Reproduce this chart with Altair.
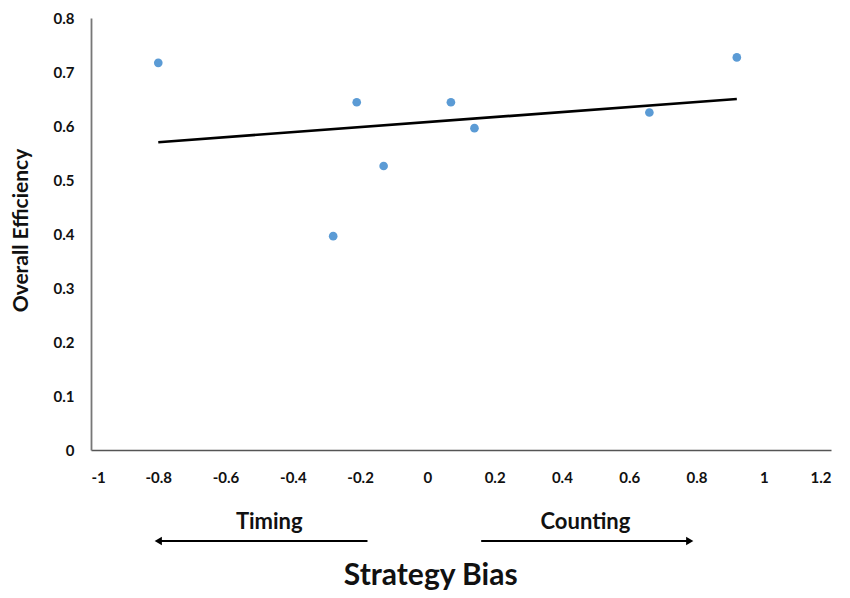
import altair as alt
import pandas as pd

# Data
strategy_bias = [-0.80, -0.28, -0.21, -0.13, 0.07, 0.14, 0.66, 0.92]
overall_eff = [0.717, 0.396, 0.644, 0.526, 0.644, 0.596, 0.625, 0.727]

x_ticks = [-1, -0.8, -0.6, -0.4, -0.2, 0, 0.2, 0.4, 0.6, 0.8, 1, 1.2]
y_ticks = [0, 0.1, 0.2, 0.3, 0.4, 0.5, 0.6, 0.7, 0.8]

# Annotations below the axis (x in data units)
ann_labels = ["Timing", "Counting"]
ann_x = [-0.47, 0.47]
arrow_tail = [-0.178, 0.16]
arrow_head = [-0.80, 0.78]
arrow_shape = ["triangle-left", "triangle-right"]
axis_title = ["Strategy Bias"]
axis_title_x = [0.01]

FONT = "Lato, Open Sans, sans-serif"

df = pd.DataFrame({"x": strategy_bias, "y": overall_eff})
ann = pd.DataFrame({"x": ann_x, "label": ann_labels, "tail": arrow_tail,
                    "head": arrow_head, "shape": arrow_shape})
ttl = pd.DataFrame({"x": axis_title_x, "label": axis_title})

minus_fix = "replace(format(datum.value, '~g'), '\u2212', '-')"

xscale = alt.Scale(domain=[-1, 1.2], nice=False, zero=False)
yscale = alt.Scale(domain=[0, 0.8], nice=False)

xax = alt.Axis(values=x_ticks, labelExpr=minus_fix, grid=False, ticks=False,
               labelPadding=20, labelFontSize=15, labelFontWeight="bold",
               labelFont=FONT, labelColor="#111111", domainColor="#555555",
               domainWidth=1.6, title=None)
yax = alt.Axis(values=y_ticks, labelExpr=minus_fix, grid=False, ticks=False,
               labelPadding=17, labelFontSize=15, labelFontWeight="bold",
               labelFont=FONT, labelColor="#111111", domainColor="#777777",
               domainWidth=1.8, title="Overall Efficiency", titleFont=FONT,
               titleFontSize=21, titleFontWeight="bold", titleColor="#111111",
               titleX=-70, titleY=212, titleAngle=270, titleAlign="center",
               titleBaseline="middle")

base = alt.Chart(df)

points = base.mark_circle(size=75, opacity=1, color="#5b9bd5").encode(
    x=alt.X("x:Q", scale=xscale, axis=xax),
    y=alt.Y("y:Q", scale=yscale, axis=yax),
)

trend = base.transform_regression("x", "y").mark_line(
    color="black", strokeWidth=2.6
).encode(x=alt.X("x:Q", scale=xscale), y=alt.Y("y:Q", scale=yscale))

ann_text = alt.Chart(ann).mark_text(
    fontSize=22, fontWeight="bold", font=FONT, color="#111111", baseline="middle"
).encode(x=alt.X("x:Q", scale=xscale), y=alt.value(504), text="label:N")

shafts = alt.Chart(ann).mark_rule(color="black", strokeWidth=2.2).encode(
    x=alt.X("tail:Q", scale=xscale), x2="head:Q", y=alt.value(523)
)

heads = alt.Chart(ann).mark_point(filled=True, size=70, color="black", opacity=1).encode(
    x=alt.X("head:Q", scale=xscale), y=alt.value(523),
    shape=alt.Shape("shape:N", scale=None, legend=None)
)

title_text = alt.Chart(ttl).mark_text(
    fontSize=30, fontWeight="bold", font=FONT, color="#111111", baseline="middle"
).encode(x=alt.X("x:Q", scale=xscale), y=alt.value(558), text="label:N")

chart = alt.layer(trend, points, ann_text, shafts, heads, title_text).properties(
    width=740, height=432,
    autosize=alt.AutoSizeParams(type="none"),
    padding={"left": 83, "top": 10, "right": 10, "bottom": 144},
    background="white",
).configure_view(stroke=None)

chart.save("out.html", embed_options={"renderer": "svg", "actions": False})
